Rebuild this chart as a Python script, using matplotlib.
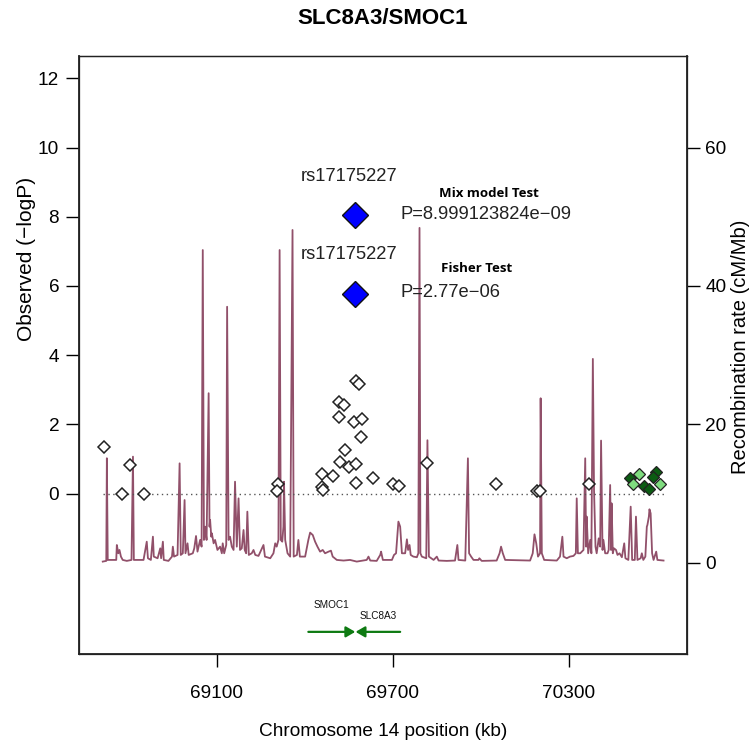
import matplotlib
matplotlib.use('Agg')
import matplotlib.pyplot as plt

plt.rcParams['font.family'] = ['Liberation Sans', 'DejaVu Sans']

title = "SLC8A3/SMOC1"
x_label = "Chromosome 14 position (kb)"
y_label = "Observed (\u2212logP)"
y2_label = "Recombination rate (cM/Mb)"

x_ticks = [69100, 69700, 70300]
y_ticks = [0, 2, 4, 6, 8, 10, 12]
y2_ticks = [0, 20, 40, 60]

# SNPs (white, no LD info)
snp_pos = [68716, 68776, 68803, 68851, 69308, 69306, 69460, 69460, 69461, 69497,
           69520, 69537, 69518, 69535, 69516, 69552, 69573, 69585, 69569, 69594,
           69592, 69575, 69575, 69634, 69702, 69722, 69818, 70051, 70191, 70202, 70370]
snp_logp = [1.34, 0.00, 0.83, 0.00, 0.28, 0.08, 0.56, 0.18, 0.10, 0.51,
            0.92, 1.26, 2.64, 2.56, 2.20, 0.76, 3.24, 3.16, 2.06, 2.15,
            1.62, 0.85, 0.30, 0.46, 0.27, 0.22, 0.88, 0.28, 0.08, 0.08, 0.27]

# green SNPs
dark_pos = [70507, 70558, 70572, 70598, 70586]
dark_logp = [0.44, 0.22, 0.12, 0.62, 0.49]
light_pos = [70541, 70520, 70611]
light_logp = [0.56, 0.28, 0.28]

# lead SNP
lead_snp = "rs17175227"
lead_pos = 69571
lead_logp = [8.05, 5.76]
test_names = ["Mix model Test", "Fisher Test"]
test_pvals = ["P=8.999123824e\u221209", "P=2.77e\u221206"]

# genes
gene_names = ["SMOC1", "SLC8A3"]
gene_start = [69412, 69573]
gene_end = [69572, 69725]
gene_strand = [1, -1]

# recombination rate
recomb_pos = [68711, 68723, 68725, 68728, 68757, 68759, 68764, 68768, 68773, 68779,
              68793, 68809, 68814, 68817, 68850, 68861, 68865, 68875, 68882, 68885,
              68898, 68907, 68910, 68916, 68919, 68935, 68947, 68950, 68954, 68966,
              68973, 68977, 68984, 68990, 68993, 69000, 69004, 69018, 69023, 69029,
              69034, 69043, 69048, 69052, 69056, 69060, 69065, 69072, 69075, 69077,
              69081, 69083, 69089, 69094, 69102, 69111, 69117, 69120, 69125, 69132,
              69135, 69140, 69145, 69151, 69157, 69162, 69168, 69174, 69179, 69185,
              69191, 69195, 69200, 69204, 69209, 69219, 69225, 69231, 69242, 69259,
              69264, 69282, 69293, 69299, 69304, 69310, 69314, 69318, 69323, 69327,
              69329, 69333, 69341, 69350, 69358, 69362, 69373, 69378, 69383, 69401,
              69412, 69418, 69427, 69435, 69443, 69452, 69461, 69469, 69481, 69489,
              69495, 69509, 69532, 69554, 69577, 69611, 69617, 69623,
              69645, 69657, 69660, 69666, 69697, 69704, 69711, 69719, 69725, 69731,
              69742, 69748, 69752, 69757, 69761, 69770, 69782, 69787, 69791, 69794,
              69799, 69814, 69818, 69823, 69839, 69850, 69856, 69884, 69912, 69920,
              69924, 69947, 69956, 69960, 69967, 69975, 69992, 69995, 70003, 70054,
              70064, 70069, 70075, 70083, 70168, 70177, 70183, 70189, 70195, 70202,
              70204, 70208, 70216, 70259, 70270, 70278, 70282, 70293, 70304, 70316,
              70324, 70327, 70331, 70339, 70350, 70356, 70359, 70361, 70366, 70373,
              70377, 70382, 70386, 70391, 70395, 70402, 70407, 70410, 70415, 70418,
              70424, 70432, 70436, 70441, 70444, 70446, 70450, 70454, 70461, 70466,
              70473, 70481, 70489, 70493, 70503, 70511, 70516, 70525, 70529, 70534,
              70545, 70549, 70554, 70561, 70566, 70568, 70573, 70575, 70579, 70584,
              70589, 70598, 70602, 70623]
recomb_rate = [0.16, 0.26, 15.1, 0.40, 0.40, 2.56, 1.36, 1.84, 0.88, 0.40,
               0.26, 0.40, 15.33, 0.40, 0.40, 3.04, 0.64, 0.40, 3.76, 0.88,
               0.64, 2.08, 0.64, 3.04, 0.40, 0.26, 0.88, 2.32, 0.88, 1.12,
               14.36, 1.12, 1.36, 9.06, 1.36, 2.80, 1.12, 1.36, 2.08, 3.86,
               1.60, 3.29, 2.32, 45.2, 3.29, 5.21, 3.29, 24.5, 5.21, 6.18,
               3.76, 4.25, 2.80, 3.29, 1.84, 2.32, 1.36, 2.80, 1.36, 2.56,
               37.0, 3.29, 3.76, 2.32, 1.84, 11.71, 2.32, 9.30, 1.84, 2.08,
               4.73, 1.84, 1.36, 7.38, 1.12, 1.36, 1.84, 1.12, 0.98, 2.56,
               0.88, 0.64, 1.36, 2.80, 2.32, 3.29, 45.2, 3.29, 3.04, 5.21,
               11.71, 3.29, 1.36, 0.88, 48.1, 0.88, 1.12, 3.29, 0.88, 0.88,
               3.29, 4.35, 4.00, 3.04, 2.32, 1.60, 1.84, 1.36, 1.60, 1.74,
               0.88, 0.40, 0.31, 0.40, 0.16, 0.40, 0.88, 0.31,
               0.26, 1.12, 1.60, 0.40, 0.40, 1.12, 1.36, 5.94, 5.21, 1.36,
               1.36, 3.38, 1.84, 2.56, 1.12, 0.88, 0.79, 1.36, 48.4, 1.36,
               0.88, 0.64, 17.7, 0.88, 0.40, 0.88, 0.31, 0.26, 0.31, 2.56,
               0.40, 0.31, 15.09, 1.36, 0.88, 0.40, 0.40, 0.64, 0.26, 0.31,
               1.36, 2.32, 1.36, 0.40, 0.31, 1.36, 4.10, 2.80, 0.88, 1.36,
               23.77, 1.36, 0.40, 0.31, 0.88, 3.76, 0.88, 0.64, 0.88, 0.98,
               1.36, 9.30, 1.36, 1.36, 1.84, 15.09, 2.32, 6.66, 1.36, 3.29,
               1.36, 29.46, 10.51, 2.32, 1.36, 3.52, 2.32, 17.65, 1.84, 3.29,
               1.36, 1.36, 1.84, 11.23, 1.84, 8.58, 1.36, 2.08, 1.84, 1.12,
               1.36, 0.79, 2.80, 0.64, 0.40, 8.10, 0.40, 0.40, 6.66, 0.40,
               0.64, 1.36, 0.40, 0.88, 5.21, 5.45, 6.66, 7.72, 7.14, 1.36,
               0.40, 1.60, 0.40, 0.31]

FS = 13.7
fig = plt.figure(figsize=(7.52, 7.46), dpi=100)
ax = fig.add_axes([79/752, (746-654)/746, (687-79)/752, (654-56)/746])
ax2 = ax.twinx()
ax.set_zorder(ax2.get_zorder() + 1)
ax.patch.set_visible(False)

ax2.plot(recomb_pos, recomb_rate, color='#91506a', lw=1.3, zorder=1)
ax2.set_ylim(-13.2, 73.25)
ax2.set_yticks(y2_ticks)
ax2.tick_params(axis='y', direction='out', length=9.3, width=1.0, pad=4, labelsize=FS)

ax.set_xlim(68630, 70703)
ax.set_ylim(-4.64, 12.65)
ax.set_xticks(x_ticks)
ax.set_yticks(y_ticks)
ax.tick_params(axis='y', direction='out', length=9.3, width=1.0, pad=5, labelsize=FS)
ax.tick_params(axis='x', direction='out', length=9.3, width=1.0, pad=13, labelsize=FS)

for a in (ax, ax2):
    for s in a.spines.values():
        s.set_linewidth(0.9)
        s.set_color('#222222')
ax.spines['left'].set_linewidth(1.3)
ax.spines['bottom'].set_linewidth(1.3)
ax2.spines['right'].set_linewidth(1.3)

# zero line
ax.plot([recomb_pos[0], recomb_pos[-1]], [0, 0], color='#555555', lw=1.0,
        linestyle=(0, (1, 2.5)), zorder=2)

ax.plot(snp_pos, snp_logp, linestyle='none', marker='D', markersize=5.7,
        markerfacecolor='white', markeredgecolor='#222222', markeredgewidth=1.1, zorder=3)
for px_, py_ in zip(dark_pos, dark_logp):
    ax.plot([px_], [py_], marker='D', markersize=6.4, markerfacecolor='#0b5c12',
            markeredgecolor='#222222', markeredgewidth=0.9, zorder=4)
for px_, py_ in zip(light_pos, light_logp):
    ax.plot([px_], [py_], marker='D', markersize=6.4, markerfacecolor='#7fdc7f',
            markeredgecolor='#222222', markeredgewidth=0.9, zorder=4)

ax.plot([lead_pos] * 2, lead_logp, linestyle='none', marker='D', markersize=13.6,
        markerfacecolor='#0000ff', markeredgecolor='#111111', markeredgewidth=1.0, zorder=5)

label_off = [1.11, 1.14]
for i in range(2):
    ax.text(lead_pos - 20, lead_logp[i] + label_off[i], lead_snp, ha='center', va='center',
            fontsize=13.2, color='#222222', zorder=6)
    ax.text(69727, lead_logp[i] + (0.03 if i == 0 else 0.05), test_pvals[i], ha='left', va='center',
            fontsize=13.2, color='#222222', zorder=6)
ax.text(70028, 8.68, test_names[0], ha='center', va='center', fontsize=9.5,
        fontweight='bold', family=['Open Sans', 'DejaVu Sans'], zorder=6)
ax.text(69984, 6.52, test_names[1], ha='center', va='center', fontsize=9.5,
        fontweight='bold', family=['Open Sans', 'DejaVu Sans'], zorder=6)

# genes
gene_y = -4.0
label_y = [-3.22, -3.54]
for i, g in enumerate(gene_names):
    if gene_strand[i] > 0:
        a0, a1 = gene_start[i], gene_end[i]
    else:
        a0, a1 = gene_end[i], gene_start[i]
    ax.annotate('', xy=(a1, gene_y), xytext=(a0, gene_y),
                arrowprops=dict(arrowstyle='-|>,head_length=0.55,head_width=0.32',
                                color='#0e7a12', lw=1.6, shrinkA=0, shrinkB=0,
                                mutation_scale=10), zorder=4)
    ax.text((gene_start[i] + gene_end[i]) / 2, label_y[i], g, ha='center', va='center',
            fontsize=7.2, color='#111111')

fig.text(383/752, 1 - 18/746, title, ha='center', va='center', fontsize=16, fontweight='bold')
fig.text(383/752, 1 - 732/746, x_label, ha='center', va='center', fontsize=FS)
fig.text(27/752, 1 - 259/746, y_label, ha='center', va='center', rotation=90, fontsize=15)
fig.text(741/752, 1 - 347/746, y2_label, ha='center', va='center', rotation=90, fontsize=14.5)

fig.savefig('out.png', dpi=100)
